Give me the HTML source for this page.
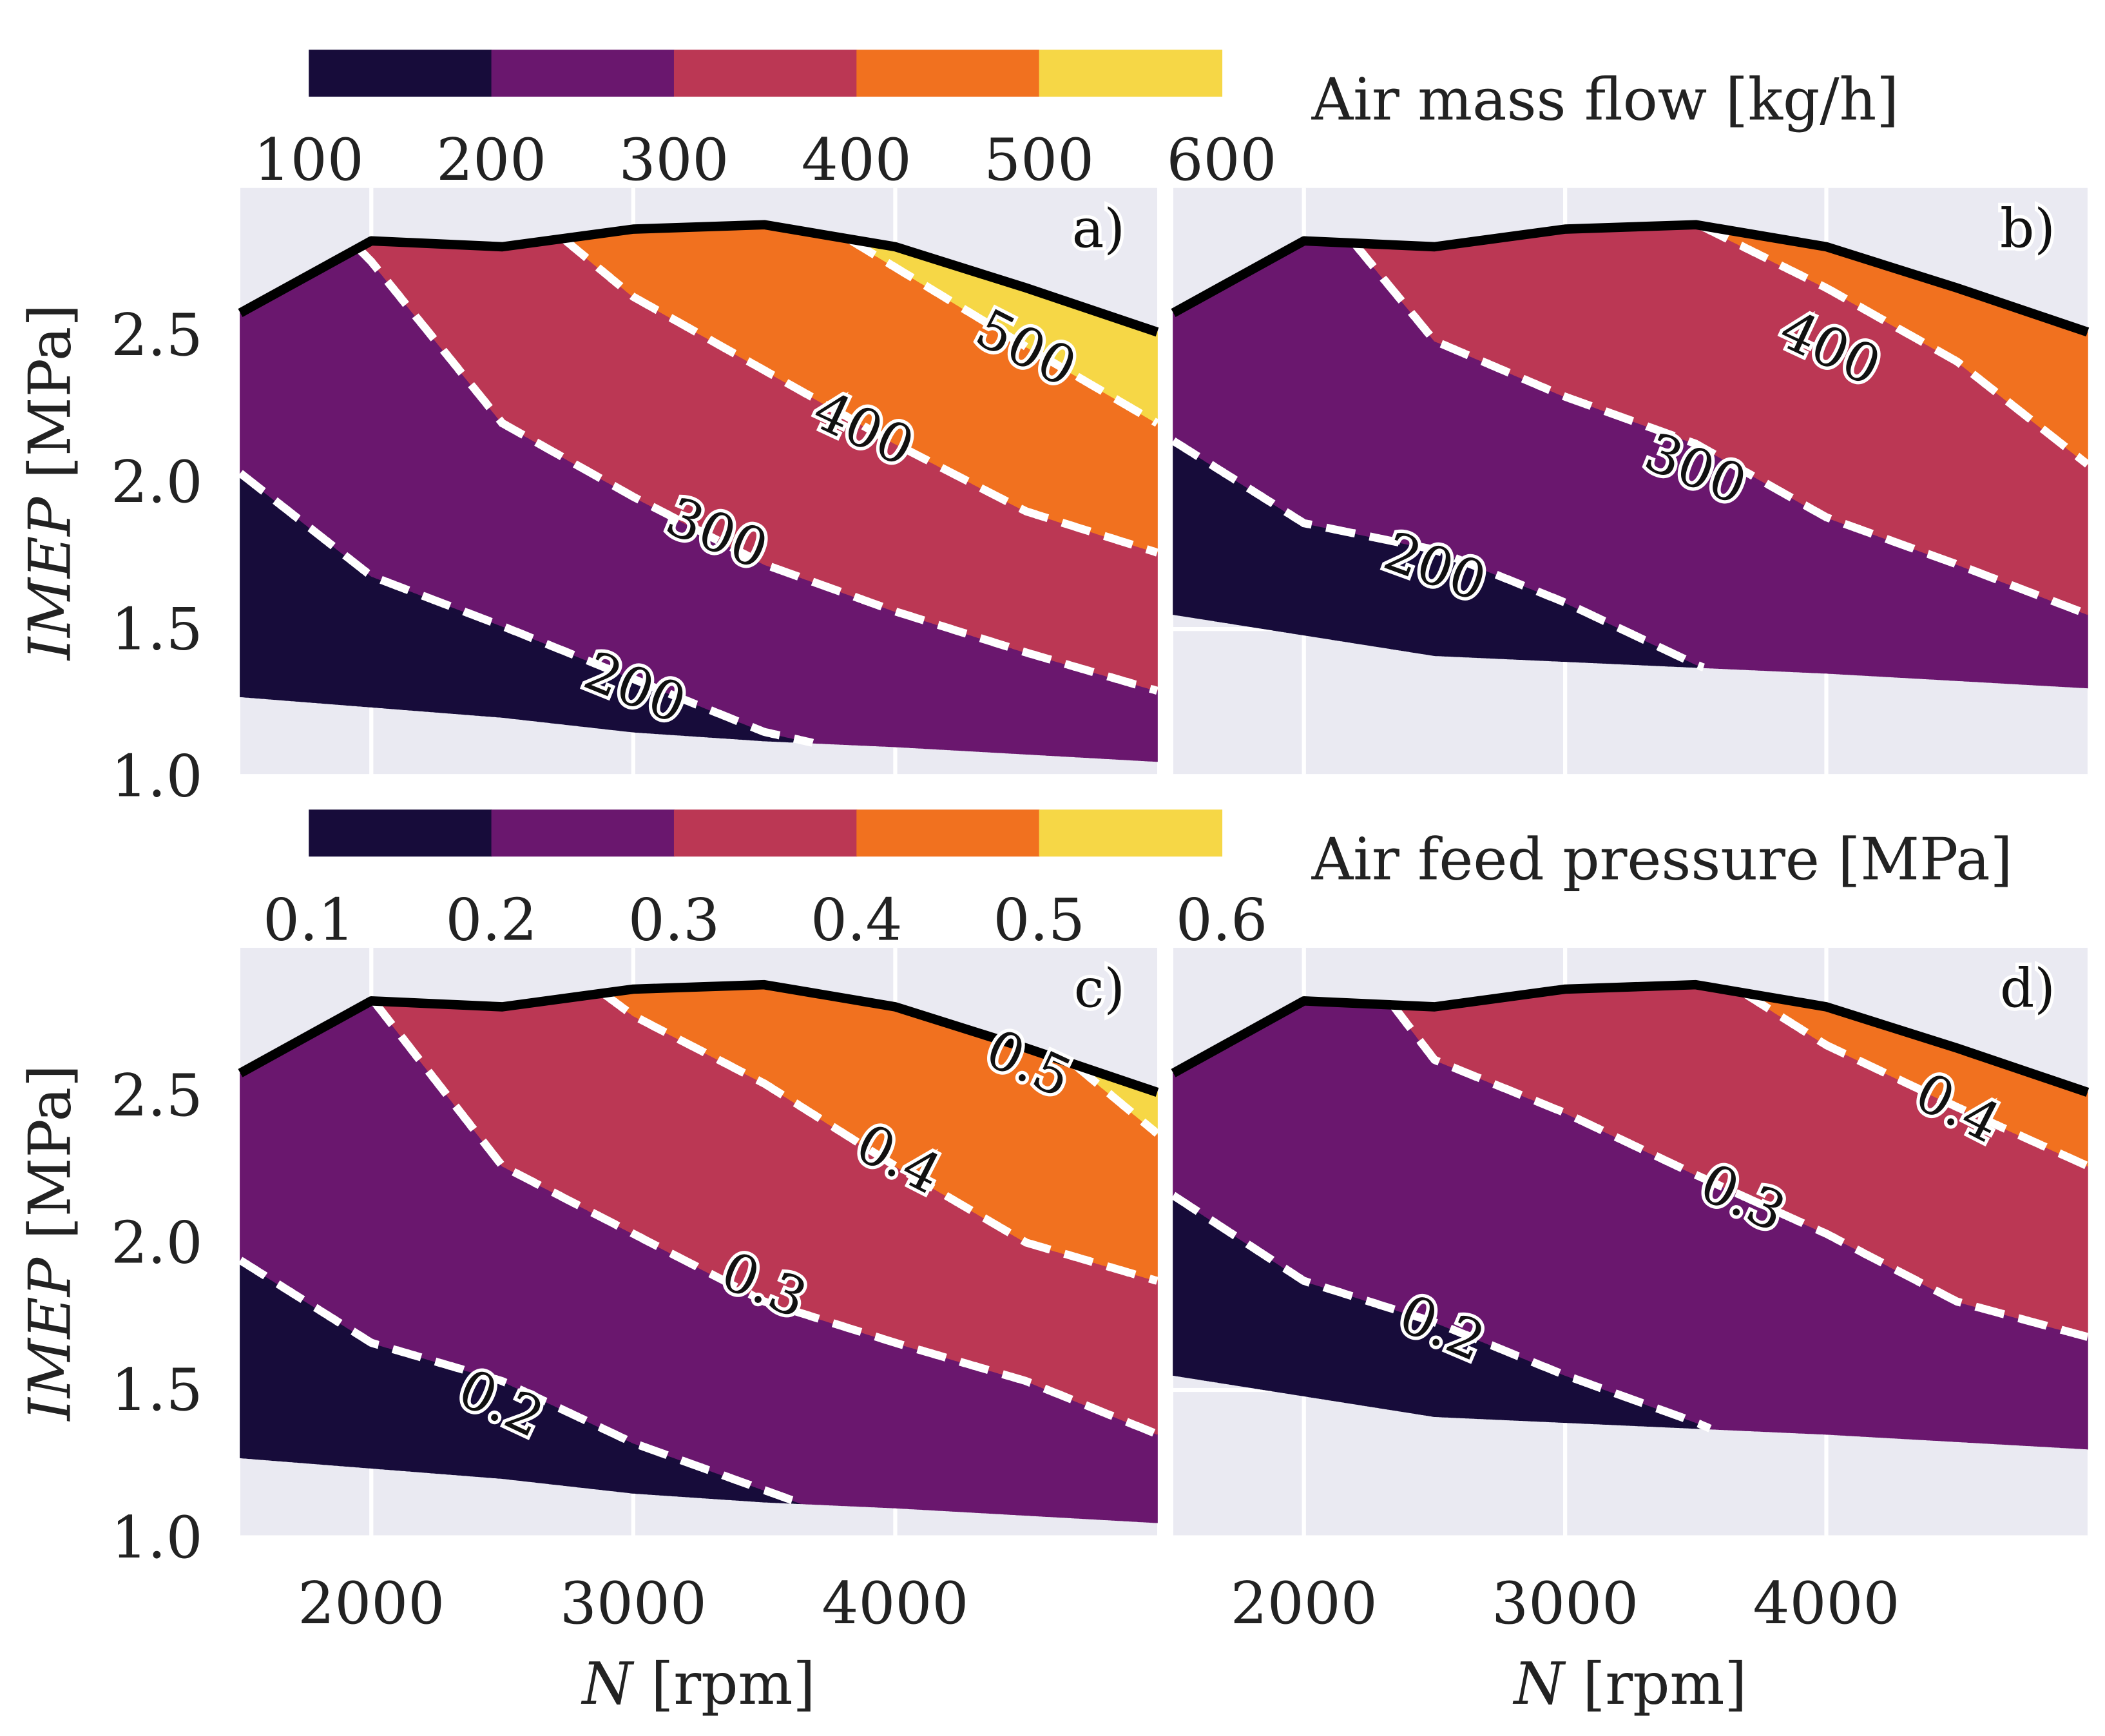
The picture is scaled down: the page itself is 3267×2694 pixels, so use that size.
<!DOCTYPE html>
<html><head><meta charset="utf-8"><style>
html,body{margin:0;padding:0;background:#fff;}
svg{display:block;}
text{font-family:"DejaVu Serif","Liberation Serif",serif;fill:#222;}
.lbl{paint-order:stroke;stroke:#fff;stroke-width:5px;fill:#111;}
</style></head><body>
<svg id="chart" width="3267" height="2694" viewBox="0 0 1568 1293" xmlns="http://www.w3.org/2000/svg"></svg>
<script>
const speeds = [1500,2000,2500,3000,3500,4000,4500,5000];
const topAll = [2.575,2.82,2.80,2.86,2.875,2.80,2.66,2.51];
const botAC = [1.27,1.235,1.20,1.15,1.12,1.10,1.075,1.05];
const botBD = [1.55,1.48,1.41,1.39,1.37,1.35,1.325,1.30];
const flowLevels = ['200','300','400','500'];
const flowA200 = [2.03,1.68,1.51,1.33,1.15,1.05,0.95,0.85];
const flowA300 = [3.2,2.75,2.20,1.95,1.72,1.56,1.42,1.29];
const flowA400 = [3.4,3.2,3.0,2.63,2.38,2.13,1.90,1.76];
const flowA500 = [3.6,3.4,3.3,3.2,3.0,2.73,2.46,2.20];
const flowB200 = [2.14,1.86,1.77,1.59,1.38,1.20,1.05,0.9];
const flowB300 = [3.3,3.02,2.48,2.29,2.13,1.88,1.72,1.55];
const flowB400 = [3.6,3.4,3.2,3.1,2.88,2.66,2.41,2.06];
const flowB500 = [4,4,4,4,4,3.6,3.4,3.2];
const presLevels = ['0.2','0.3','0.4','0.5'];
const presC02 = [1.94,1.66,1.53,1.32,1.16,1.0,0.9,0.8];
const presC03 = [3.3,2.83,2.26,2.03,1.80,1.66,1.53,1.35];
const presC04 = [3.5,3.3,3.1,2.77,2.54,2.26,2.00,1.87];
const presC05 = [4,3.8,3.6,3.4,3.2,2.95,2.74,2.37];
const presD02 = [2.16,1.87,1.73,1.55,1.39,1.2,1.05,0.9];
const presD03 = [3.5,3.2,2.62,2.44,2.23,2.03,1.80,1.68];
const presD04 = [4,3.8,3.4,3.2,2.95,2.67,2.46,2.26];
const presD05 = [4,4,4,4,4,3.6,3.4,3.2];
const cbTicks1 = ['100','200','300','400','500','600'];
const cbTicks2 = ['0.1','0.2','0.3','0.4','0.5','0.6'];
const xTicks = [2000,3000,4000];
const yTicks = [1.0,1.5,2.0,2.5];
const colors = ['#170c3a','#6a176e','#bb3754','#f1711f','#f6d746'];

const NS='http://www.w3.org/2000/svg';
const svg=document.getElementById('chart');
function mk(tag,attrs,parent){const e=document.createElementNS(NS,tag);for(const k in attrs)e.setAttribute(k,attrs[k]);(parent||svg).appendChild(e);return e;}
function interp(arr,r){for(let i=0;i<speeds.length-1;i++){if(r<=speeds[i+1]){const t=(r-speeds[i])/(speeds[i+1]-speeds[i]);return arr[i]+t*(arr[i+1]-arr[i]);}}return arr[arr.length-1];}

const panels=[
 {id:'a',x0:179,x1:862,y0:140,y1:578,bot:botAC,lines:[flowA200,flowA300,flowA400,flowA500],labels:flowLevels,ylab:true,xlab:false,
  lp:[[472,515,22],[533,400,22],[642,322,25],[763,262,27]]},
 {id:'b',x0:874,x1:1555,y0:140,y1:578,bot:botBD,lines:[flowB200,flowB300,flowB400,flowB500],labels:flowLevels,ylab:false,xlab:false,
  lp:[[1068,425,20],[1262,352,22],[1362,262,25],null]},
 {id:'c',x0:179,x1:862,y0:706,y1:1145,bot:botAC,lines:[presC02,presC03,presC04,presC05],labels:presLevels,ylab:true,xlab:true,
  lp:[[372,1048,25],[568,960,23],[668,866,27],[765,795,25]]},
 {id:'d',x0:874,x1:1555,y0:706,y1:1145,bot:botBD,lines:[presD02,presD03,presD04,presD05],labels:presLevels,ylab:false,xlab:true,
  lp:[[1073,992,23],[1297,895,25],[1457,828,27],null]}
];

panels.forEach(p=>{
 const g=mk('g',{});
 
 
 const X=r=>p.x0+(r-1500)/3500*(p.x1-p.x0);
 const Y=v=>p.y1-(v-1)/2*(p.y1-p.y0);
 const bg=mk('rect',{x:p.x0,y:p.y0,width:p.x1-p.x0,height:p.y1-p.y0,fill:'#eaeaf2'},g);
 
 
 xTicks.forEach(t=>{const l=mk('line',{x1:X(t),x2:X(t),y1:p.y0,y2:p.y1,stroke:'#fff','stroke-width':3},g);
  });
 yTicks.forEach(t=>{const l=mk('line',{x1:p.x0,x2:p.x1,y1:Y(t),y2:Y(t),stroke:'#fff','stroke-width':3},g);
  });
 const step=5;
 const n=p.lines.length;
 for(let k=0;k<=n;k++){
  let runs=[],cur=null;
  for(let r=1500;r<=5000;r+=step){
   const B=interp(p.bot,r),T=interp(topAll,r);
   const lo=Math.max(B,k==0?-10:interp(p.lines[k-1],r));
   const hi=Math.min(T,k==n?10:interp(p.lines[k],r));
   if(hi>lo){if(!cur){cur=[];runs.push(cur);}cur.push([r,lo,hi]);}else cur=null;
  }
  runs.forEach(run=>{
   let d='M'+run.map(q=>X(q[0]).toFixed(1)+','+Y(q[2]).toFixed(1)).join('L');
   d+='L'+run.slice().reverse().map(q=>X(q[0]).toFixed(1)+','+Y(q[1]).toFixed(1)).join('L')+'Z';
   const e=mk('path',{d:d,fill:colors[k],stroke:colors[k],'stroke-width':0.8},g);
   
   
  });
 }
 p.lines.forEach((ln,k)=>{
  let segs=[],cur=null;
  for(let r=1500;r<=5000;r+=step){
   const v=interp(ln,r);
   if(v>=interp(p.bot,r)&&v<=interp(topAll,r)){if(!cur){cur=[];segs.push(cur);}cur.push(X(r).toFixed(1)+','+Y(v).toFixed(1));}else cur=null;
  }
  segs.forEach(s=>{if(s.length<2)return;
   const e=mk('polyline',{points:s.join(' '),fill:'none',stroke:'#fff','stroke-width':6,'stroke-dasharray':'22,11'},g);
   
   });
 });
 const tl=mk('polyline',{points:speeds.map((s,i)=>X(s)+','+Y(topAll[i])).join(' '),fill:'none',stroke:'#000','stroke-width':7,'stroke-linejoin':'round'},g);
 
 
 p.lp.forEach((q,k)=>{if(!q)return;
  const t=mk('text',{x:q[0],y:q[1],'font-size':40,'text-anchor':'middle','dominant-baseline':'middle',class:'lbl',transform:`rotate(${q[2]} ${q[0]} ${q[1]})`},g);
  t.textContent=p.labels[k];
  
  });
 const pl=mk('text',{x:p.x1-24,y:p.y0+44,'font-size':40,'text-anchor':'end',class:'lbl'},g);
 pl.textContent=p.id+')';
 
 
 if(p.ylab){
  yTicks.forEach(t=>{const e=mk('text',{x:p.x0-28,y:Y(t)+15,'font-size':43,'text-anchor':'end'},g);e.textContent=t.toFixed(1);
   });
  const yl=mk('text',{x:52,y:(p.y0+p.y1)/2,'font-size':43,'text-anchor':'middle',transform:`rotate(-90 52 ${(p.y0+p.y1)/2})`},g);
  yl.innerHTML='<tspan font-style="italic">IMEP</tspan> [MPa]';
  
 }
 if(p.xlab){
  xTicks.forEach(t=>{const e=mk('text',{x:X(t),y:p.y1+64,'font-size':43,'text-anchor':'middle'},g);e.textContent=t;
   });
  const xl=mk('text',{x:(p.x0+p.x1)/2,y:p.y1+124,'font-size':43,'text-anchor':'middle'},g);
  xl.innerHTML='<tspan font-style="italic">N</tspan> [rpm]';
  
 }
});

function colorbar(y,ticks,title,name){
 const g=mk('g',{});
 
 
 const x0=230,w=136;
 colors.forEach((c,i)=>{const r=mk('rect',{x:x0+i*w,y:y,width:w+0.5,height:35,fill:c},g);
  });
 ticks.forEach((t,i)=>{const e=mk('text',{x:x0+i*w,y:y+97,'font-size':43,'text-anchor':'middle'},g);e.textContent=t;
  });
 const tt=mk('text',{x:977,y:y+52,'font-size':43},g);tt.textContent=title;
 
}
colorbar(37,cbTicks1,'Air mass flow [kg/h]','colorbar-air-mass-flow');
colorbar(603,cbTicks2,'Air feed pressure [MPa]','colorbar-air-feed-pressure');
</script>
</body></html>
